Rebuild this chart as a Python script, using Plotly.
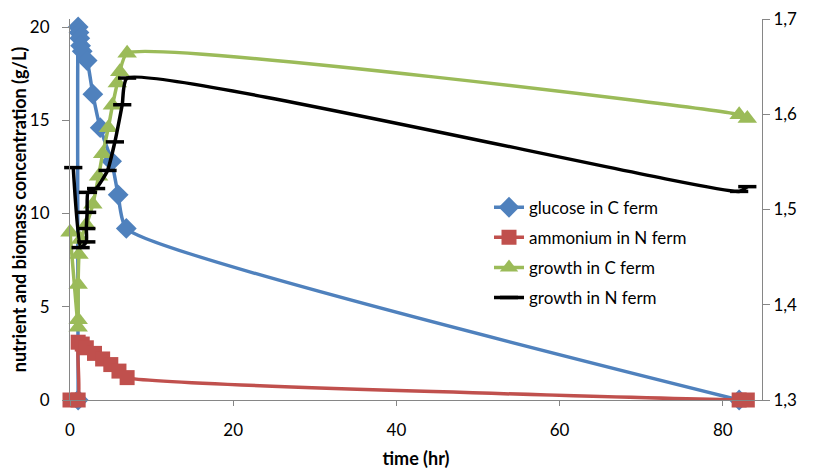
import plotly.graph_objects as go

# glucose in C fermentation (g/L)
glucose_t = [1.0, 1.0, 1.1, 1.2, 1.3, 1.5, 2.1, 2.8, 3.7, 5.1, 5.9, 6.9, 82.0]
glucose_v = [0.0, 20.0, 19.7, 19.4, 19.0, 18.7, 18.2, 16.4, 14.6, 12.8, 11.0, 9.2, 0.0]

# ammonium in N fermentation (g/L)
ammonium_t = [0.0, 1.0, 1.0, 1.5, 2.0, 3.0, 4.0, 5.0, 6.0, 7.0, 82.0, 83.0]
ammonium_v = [0.0, 0.0, 3.1, 3.0, 2.8, 2.5, 2.2, 1.9, 1.55, 1.2, 0.0, 0.0]

# growth in C fermentation (left axis)
growth_c_t = [0.0, 1.0, 1.0, 1.0, 1.1, 1.3, 2.0, 2.8, 3.5, 4.0, 4.7, 5.2, 5.8, 6.1, 7.0, 82.0, 83.0]
growth_c_v = [9.0, 3.9, 4.3, 6.2, 7.8, 8.6, 9.4, 10.5, 12.0, 13.2, 14.6, 15.8, 17.0, 17.6, 18.6, 15.3, 15.1]

# growth in N fermentation (right axis)
growth_n_t = [0.4, 1.3, 2.0, 2.0, 2.1, 2.2, 3.2, 4.6, 5.5, 6.4, 7.0, 82.0, 83.0]
growth_n_v = [1.544, 1.460, 1.466, 1.480, 1.497, 1.518, 1.522, 1.541, 1.571, 1.610, 1.638, 1.519, 1.524]

FONT = "Lato, Carlito, Calibri, sans-serif"
AXIS_GREY = "#868686"
SMOOTH = 0.5

fig = go.Figure()

fig.add_trace(go.Scatter(
    x=glucose_t, y=glucose_v, name="glucose in C ferm", legendgroup="a",
    mode="lines+markers", line=dict(color="#4F81BD", width=3.5, shape="spline", smoothing=SMOOTH),
    marker=dict(symbol="diamond", size=16, color="#4F81BD"), cliponaxis=False,
))
fig.add_trace(go.Scatter(
    x=ammonium_t, y=ammonium_v, name="ammonium in N ferm", legendgroup="b",
    mode="lines+markers", line=dict(color="#C0504D", width=3.5, shape="spline", smoothing=SMOOTH),
    marker=dict(symbol="square", size=15, color="#C0504D"), cliponaxis=False,
))
fig.add_trace(go.Scatter(
    x=growth_c_t, y=growth_c_v, name="growth in C ferm", legendgroup="c",
    mode="lines+markers", line=dict(color="#9BBB59", width=3.5, shape="spline", smoothing=SMOOTH),
    marker=dict(symbol="triangle-up", size=17, color="#9BBB59"), cliponaxis=False,
))
fig.add_trace(go.Scatter(
    x=growth_n_t, y=growth_n_v, name="growth in N ferm", legendgroup="d", yaxis="y2",
    mode="lines+markers", line=dict(color="#000000", width=3.5, shape="spline", smoothing=SMOOTH),
    marker=dict(symbol="line-ew", size=13, color="#000000", line=dict(color="#000000", width=3.5)),
    cliponaxis=False,
))

# the page body keeps its default 8px margin, so the figure is 8px smaller
fig.update_layout(
    width=805, height=462,
    margin=dict(l=62, r=51, t=11, b=70),
    paper_bgcolor="white", plot_bgcolor="white",
    font=dict(family=FONT, size=17, color="#000000"),
    separators=", ",
    showlegend=True,
    legend=dict(x=0.6055, y=0.552, xanchor="left", yanchor="top", bgcolor="rgba(0,0,0,0)",
                font=dict(size=17), tracegroupgap=5),
    xaxis=dict(
        range=[0, 84.8], tickvals=[0, 20, 40, 60, 80], showgrid=False, zeroline=False,
        showline=True, linecolor=AXIS_GREY, linewidth=1, automargin=False,
        ticks="outside", ticklen=5, tickcolor=AXIS_GREY, ticklabelstandoff=10,
        title=dict(text="<b>time (hr)</b>", font=dict(size=18), standoff=12),
    ),
    yaxis=dict(
        range=[0, 20.43], tickvals=[0, 5, 10, 15, 20], showgrid=False, zeroline=False,
        showline=True, linecolor=AXIS_GREY, linewidth=1, automargin=False,
        ticks="outside", ticklen=7, tickcolor=AXIS_GREY, ticklabelstandoff=9,
        title=dict(text="<b>nutrient and biomass concentration (g/L)</b>", font=dict(size=18), standoff=0),
    ),
    yaxis2=dict(
        range=[1.3, 1.70001], tickvals=[1.3, 1.4, 1.5, 1.6, 1.7], tickformat=".1f",
        overlaying="y", side="right", showgrid=False, zeroline=False,
        showline=True, linecolor=AXIS_GREY, linewidth=1, automargin=False,
        ticks="outside", ticklen=7, tickcolor=AXIS_GREY, ticklabeloverflow="allow",
    ),
)

fig.write_html("out.html")
